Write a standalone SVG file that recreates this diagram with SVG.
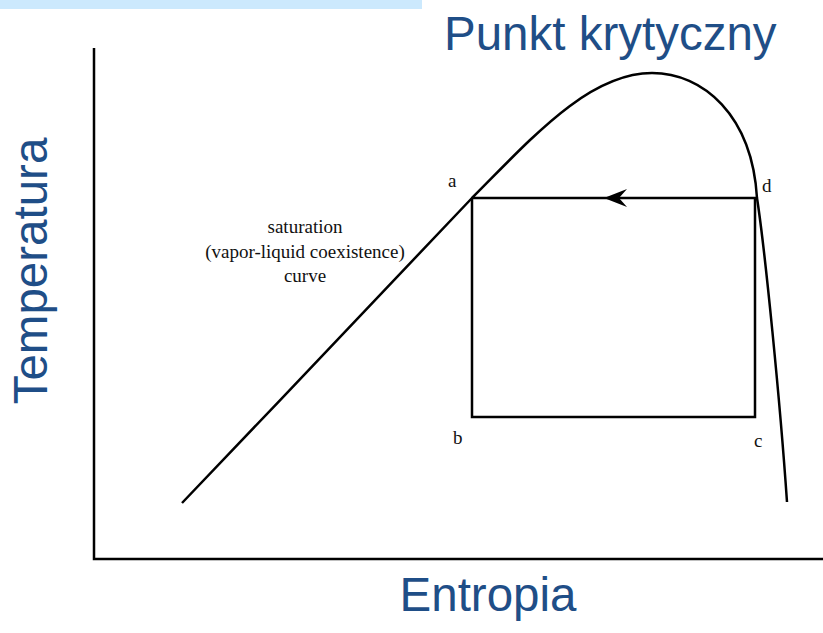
<svg xmlns="http://www.w3.org/2000/svg" width="823" height="633" viewBox="0 0 823 633">
  <style>
    .title { font-family: "Liberation Sans", Arial, sans-serif; font-size: 47.5px; fill: #1F4E87; }
    .lbl { font-family: "Liberation Serif", "Times New Roman", serif; font-size: 19px; fill: #111; }
    .ln { fill: none; stroke: #000; stroke-width: 2.5; stroke-linecap: butt; }
  </style>
  <rect x="0" y="0" width="823" height="633" fill="#ffffff"/>
  <rect x="0" y="0" width="422" height="9" fill="#CCE9FD"/>

  <g id="axes">
    <path class="ln" d="M94,48 V559 H823"/>
  </g>

  <g id="saturation-curve">
    <path class="ln" d="M182,503 C 280,400 400,275 472,198 C 530,140 588,73 652,73 C 703,73 752,115 757,198 C 765,250 780,400 787,502"/>
  </g>

  <g id="connectors">
    <path class="ln" d="M472,198 H757"/>
    <path class="ln" d="M472,198 V417 H755 V198"/>
    <path d="M604,198 L627,189 L619,198 L627,207 Z" fill="#000"/>
  </g>

  <g id="point-a"><text class="lbl" x="448" y="187">a</text></g>
  <g id="point-b"><text class="lbl" x="453" y="444">b</text></g>
  <g id="point-c"><text class="lbl" x="754" y="447">c</text></g>
  <g id="point-d"><text class="lbl" x="762" y="192">d</text></g>

  <g id="curve-label">
    <text class="lbl" text-anchor="middle" x="305" y="233">saturation</text>
    <text class="lbl" text-anchor="middle" x="305" y="258">(vapor-liquid coexistence)</text>
    <text class="lbl" text-anchor="middle" x="305" y="282">curve</text>
  </g>

  <g id="titles">
    <text class="title" x="444" y="50">Punkt krytyczny</text>
    <text class="title" text-anchor="middle" x="488" y="611">Entropia</text>
    <text class="title" text-anchor="middle" transform="translate(47,271) rotate(-90)">Temperatura</text>
  </g>
</svg>
